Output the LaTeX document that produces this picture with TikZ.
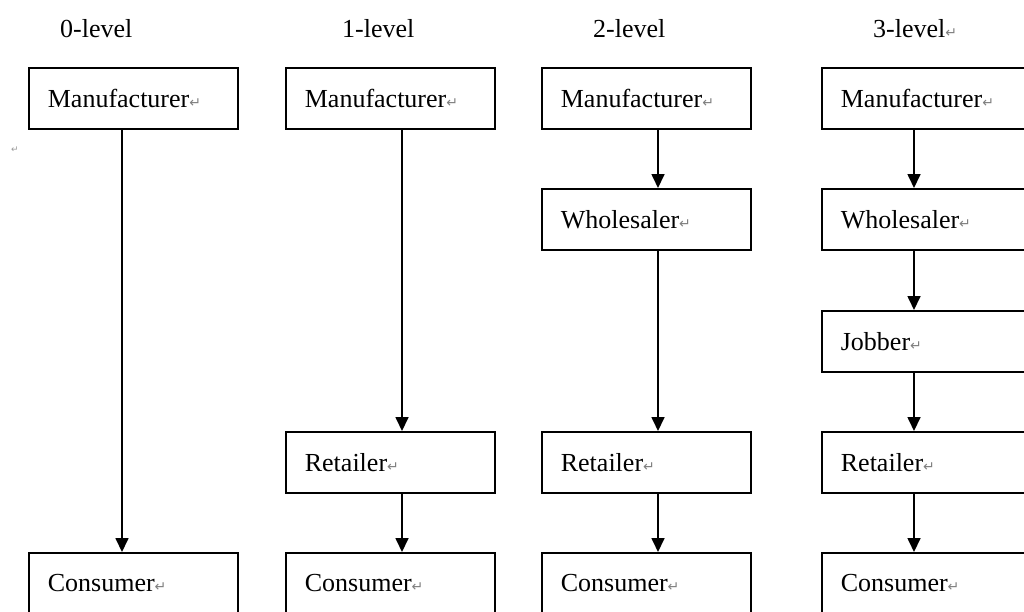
\documentclass[tikz,border=0pt]{standalone}
\usepackage{fontspec}
\setmainfont{Liberation Serif}
\newfontfamily\markfont{DejaVu Sans}
\usetikzlibrary{arrows.meta}
\newcommand{\parmark}{{\markfont\fontsize{14}{14}\selectfont\color{black!50}↵}}
\begin{document}
\begin{tikzpicture}[x=1pt,y=-1pt,
  chbox/.style={draw=black, line width=1.7pt, rectangle, anchor=north west,
    minimum height=61pt, text width=171pt, inner xsep=19pt, inner ysep=0pt,
    align=left, font=\fontsize{26}{30}\selectfont},
  lvl/.style={anchor=base west, inner sep=0pt, font=\fontsize{26}{30}\selectfont},
  arr/.style={line width=1.7pt, -{Triangle[width=13pt,length=14pt]}}]
\clip (0,0) rectangle (1024,611);
\fill[white] (0,0) rectangle (1024,611);
% level titles
\node[lvl] (l0) at (60,37) {0-level};
\node[lvl] (l1) at (342,37) {1-level};
\node[lvl] (l2) at (593,37) {2-level};
\node[lvl] (l3) at (873,37) {3-level\parmark};
\node[inner sep=0pt] (stray) at (15,150) {{\markfont\fontsize{9}{9}\selectfont\color{black!40}↵}};
% column 0
\node[chbox] (m0) at (28,67) {Manufacturer\parmark};
\node[chbox] (c0) at (28,552) {Consumer\parmark};
\draw[arr] ([xshift=94pt]m0.south west) -- ([xshift=94pt]c0.north west);
% column 1
\node[chbox] (m1) at (285,67) {Manufacturer\parmark};
\node[chbox] (r1) at (285,431) {Retailer\parmark};
\node[chbox] (c1) at (285,552) {Consumer\parmark};
\draw[arr] ([xshift=117pt]m1.south west) -- ([xshift=117pt]r1.north west);
\draw[arr] ([xshift=117pt]r1.south west) -- ([xshift=117pt]c1.north west);
% column 2
\node[chbox] (m2) at (541,67) {Manufacturer\parmark};
\node[chbox] (w2) at (541,188) {Wholesaler\parmark};
\node[chbox] (r2) at (541,431) {Retailer\parmark};
\node[chbox] (c2) at (541,552) {Consumer\parmark};
\draw[arr] ([xshift=117pt]m2.south west) -- ([xshift=117pt]w2.north west);
\draw[arr] ([xshift=117pt]w2.south west) -- ([xshift=117pt]r2.north west);
\draw[arr] ([xshift=117pt]r2.south west) -- ([xshift=117pt]c2.north west);
% column 3
\node[chbox] (m3) at (821,67) {Manufacturer\parmark};
\node[chbox] (w3) at (821,188) {Wholesaler\parmark};
\node[chbox] (j3) at (821,310) {Jobber\parmark};
\node[chbox] (r3) at (821,431) {Retailer\parmark};
\node[chbox] (c3) at (821,552) {Consumer\parmark};
\draw[arr] ([xshift=93pt]m3.south west) -- ([xshift=93pt]w3.north west);
\draw[arr] ([xshift=93pt]w3.south west) -- ([xshift=93pt]j3.north west);
\draw[arr] ([xshift=93pt]j3.south west) -- ([xshift=93pt]r3.north west);
\draw[arr] ([xshift=93pt]r3.south west) -- ([xshift=93pt]c3.north west);
\end{tikzpicture}
\end{document}
